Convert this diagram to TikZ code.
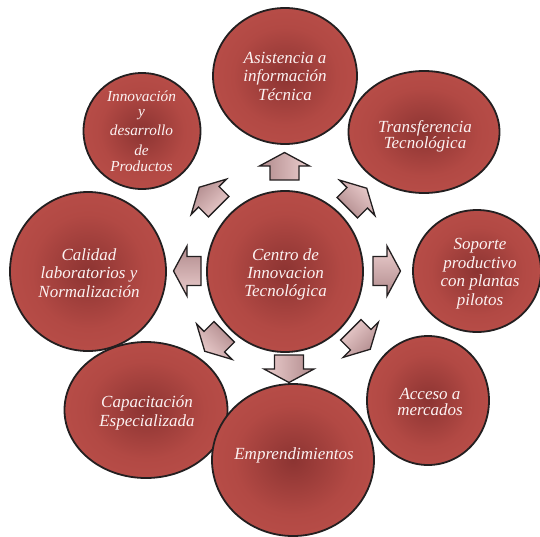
\documentclass[tikz,border=0pt]{standalone}
\usepackage{fontspec}
\setmainfont{Liberation Serif}
\usetikzlibrary{shapes.geometric}
\definecolor{rimc}{RGB}{35,31,32}
\definecolor{redin}{RGB}{140,52,50}
\definecolor{redmid}{RGB}{178,73,68}
\definecolor{redout}{RGB}{199,88,82}
\definecolor{arlight}{RGB}{236,206,206}
\definecolor{ardark}{RGB}{176,138,140}
\definecolor{txtc}{RGB}{252,242,242}
\pgfdeclareradialshading{bubbleshade}{\pgfpoint{0bp}{0bp}}{color(0bp)=(redin); color(18bp)=(redmid); color(50bp)=(redout)}
\tikzset{
  bubble/.style={ellipse, draw=rimc, line width=1.8pt, shading=bubbleshade, inner sep=0pt},
  lbl/.style={text=txtc, font=\itshape\fontsize{17}{18.4}\selectfont, align=center, inner sep=0pt},
  hubarrow/.style={draw=rimc, line width=1.3pt, line join=miter, top color=arlight, bottom color=ardark},
}
\newcommand\hubarrowat[3]{%
  \begin{scope}[shift={(#1,#2)}, rotate=#3]
    \path[hubarrow, shading angle=-#3] (-13,14.5) -- (1,14.5) -- (1,25) -- (14.5,0) -- (1,-25) -- (1,-14.5) -- (-13,-14.5) -- cycle;
  \end{scope}}
\begin{document}
\begin{tikzpicture}[x=1pt,y=1pt]
\useasboundingbox (0,0) rectangle (540,-536);
% outer bubbles
\node[bubble, minimum width=144pt, minimum height=136pt] (asis) at (285,-76) {};
\node[bubble, minimum width=151pt, minimum height=122pt] (trans) at (424,-132) {};
\node[bubble, minimum width=128pt, minimum height=122pt] (sop) at (477,-271) {};
\node[bubble, minimum width=122pt, minimum height=129pt] (acc) at (428,-400.5) {};
\node[bubble, minimum width=163pt, minimum height=136pt] (cap) at (146,-410) {};
\node[bubble, minimum width=162pt, minimum height=152pt] (empr) at (293,-460) {};
\node[bubble, minimum width=156pt, minimum height=159pt] (cal) at (88,-271.5) {};
\node[bubble, minimum width=117pt, minimum height=116pt] (innov) at (142,-131) {};
% centre
\node[bubble, minimum width=156pt, minimum height=161pt] (centro) at (285,-271.5) {};
% labels
\node[lbl] (asisT) at (285,-76.3) {Asistencia a\\información\\Técnica};
\node[lbl, font=\itshape\fontsize{17}{16.6}\selectfont] (transT) at (425,-136.2) {Transferencia\\Tecnológica};
\node[lbl] (sopT) at (480,-273.6) {Soporte\\productivo\\con plantas\\pilotos};
\node[lbl, font=\itshape\fontsize{17}{16.7}\selectfont] (accT) at (430,-402.1) {Acceso a\\mercados};
\node[lbl] (emprT) at (294,-455.4) {Emprendimientos};
\node[lbl] (capT) at (147,-412.9) {Capacitación\\Especializada};
\node[lbl, font=\itshape\fontsize{17}{18.8}\selectfont] (calT) at (89,-273) {Calidad\\laboratorios y\\Normalización};
\node[lbl] (centroT) at (285.5,-274.4) {Centro de\\Innovacion\\Tecnológica};
\node[lbl, font=\itshape\fontsize{15.3}{17}\selectfont] (innovT) at (141.5,-131.5) {Innovación\\[-2pt]y\\[1.3pt]desarrollo\\[3pt]de\\[-0.3pt]Productos};
% arrows
\hubarrowat{284.5}{-167}{90}
\hubarrowat{356.5}{-198.5}{45}
\hubarrowat{386}{-271}{0}
\hubarrowat{360}{-339}{315}
\hubarrowat{289}{-368}{270}
\hubarrowat{215}{-341}{225}
\hubarrowat{188}{-271}{180}
\hubarrowat{209.5}{-197.5}{135}
\end{tikzpicture}
\end{document}
